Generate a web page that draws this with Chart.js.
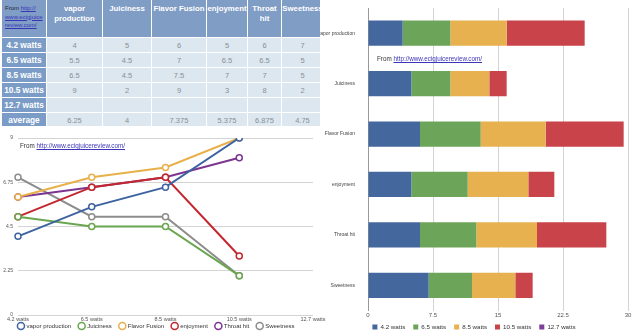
<!DOCTYPE html>
<html>
<head>
<meta charset="utf-8">
<script src="https://cdn.jsdelivr.net/npm/chart.js@4/dist/chart.umd.min.js"></script>
<style>
  body { margin: 0; width: 640px; height: 334px; background: #fff; position: relative; overflow: hidden;
         font-family: "Liberation Sans", Arial, sans-serif; }
  #tableBox { position: absolute; left: 0; top: 0; width: 321px; height: 126px; overflow: hidden; }
  #scores { border-collapse: separate; border-spacing: 0; table-layout: fixed; width: 322px; margin-left: 2px; }
  #scores th, #scores td { padding: 0; border-right: 1px solid #fff; border-bottom: 1px solid #fff; white-space: nowrap; }
  #scores thead th { background: #7f9dc5; color: #fff; font-size: 7.8px; font-weight: bold; height: 38px;
                     vertical-align: top; padding-top: 4px; box-sizing: border-box; line-height: 10px; overflow: visible; }
  #scores thead th:nth-child(2), #scores thead th:nth-child(6) { white-space: normal; }
  #scores thead th.src { text-align: left; font-weight: normal; font-size: 6px; line-height: 8.5px; color: #223;
                         padding: 4px 0 0 3px; white-space: normal; }
  #scores tbody th { background: #7b9cc7; color: #fff; font-size: 8.3px; font-weight: bold; height: 14px; text-align: center; }
  #scores tbody td { background: #dce7f0; color: #8a8f96; font-size: 7.5px; height: 14px; text-align: center; }
  a { color: #3a35b8; text-decoration: underline; }
  .src-note { position: absolute; font-size: 6.3px; color: #333; white-space: nowrap; z-index: 3; }
  #lineBox { position: absolute; left: 0; top: 128px; width: 330px; height: 211px; z-index: 2; }
  #barBox { position: absolute; left: 320px; top: 0; width: 320px; height: 340px; background: #fff; z-index: 1; }
</style>
</head>
<body>
<div id="tableBox"><table id="scores"></table></div>
<div id="barBox"><canvas id="barChart" width="320" height="340"></canvas></div>
<div id="lineBox"><canvas id="lineChart" width="330" height="211"></canvas></div>
<div class="src-note" style="left:20px; top:142px;">From <a>http://www.ecigjuicereview.com/</a></div>
<div class="src-note" style="left:377px; top:55px;">From <a>http://www.ecigjuicereview.com/</a></div>
<script>
const watts = ["4.2 watts", "6.5 watts", "8.5 watts", "10.5 watts", "12.7 watts"];
const traits = ["vapor production", "Juiciness", "Flavor Fusion", "enjoyment", "Throat hit", "Sweetness"];

// scores per trait, one value per wattage (no 12.7 watts test yet)
const vaporProduction = [4, 5.5, 6.5, 9, null];
const juiciness = [5, 4.5, 4.5, 2, null];
const flavorFusion = [6, 7, 7.5, 9, null];
const enjoyment = [5, 6.5, 7, 3, null];
const throatHit = [6, 6.5, 7, 8, null];
const sweetness = [7, 5, 5, 2, null];
const averages = ["6.25", "4", "7.375", "5.375", "6.875", "4.75"];

const series = [vaporProduction, juiciness, flavorFusion, enjoyment, throatHit, sweetness];
const traitColors = ["#3d63a0", "#6aa54f", "#e8b04a", "#c4262e", "#7b3590", "#8c8c8c"];
const wattColors = ["#44679e", "#6ca55a", "#e8b150", "#c8434a", "#7d3f98"];

Chart.defaults.font.family = "'Liberation Sans', Arial, sans-serif";

// table
const colWidths = [45, 56, 49, 55, 41, 34, 42];
let html = "<colgroup>" + colWidths.map(w => `<col style="width:${w}px">`).join("") + "</colgroup>";
html += '<thead><tr><th class="src">From <a>http://<br>www.ecigjuice<br>review.com/</a></th>';
html += traits.map(t => `<th>${t}</th>`).join("") + "</tr></thead><tbody>";
watts.forEach((w, i) => {
  html += `<tr><th>${w}</th>` + series.map(s => `<td>${s[i] == null ? "" : s[i]}</td>`).join("") + "</tr>";
});
html += "<tr><th>average</th>" + averages.map(a => `<td>${a}</td>`).join("") + "</tr></tbody>";
document.getElementById("scores").innerHTML = html;

// line chart: trait score by wattage
new Chart(document.getElementById("lineChart"), {
  type: "line",
  data: {
    labels: watts,
    datasets: traits.map((t, i) => ({
      label: t,
      data: series[i],
      borderColor: traitColors[i],
      backgroundColor: "#fff",
      pointBackgroundColor: "#fff",
      borderWidth: 2,
      pointRadius: 3,
      pointBorderWidth: 1.5,
      tension: 0,
    }))
  },
  options: {
    responsive: false,
    animation: false,
    layout: { padding: { top: 10, right: 17 } },
    plugins: {
      legend: {
        position: "bottom",
        labels: { usePointStyle: true, pointStyle: "circle", boxWidth: 5, boxHeight: 5, padding: 8,
                  font: { size: 6 }, color: "#333" }
      },
      tooltip: { enabled: false }
    },
    scales: {
      x: {
        grid: { display: false },
        border: { display: false },
        // mirrored so the labels aren't clipped to the (squeezed) axis box
        ticks: { mirror: true, padding: -7.3, font: { size: 5.5 }, color: "#555", maxRotation: 0 },
        afterFit: s => { s.height = 0; }
      },
      y: {
        min: 0,
        max: 9,
        ticks: { stepSize: 2.25, font: { size: 5 }, color: "#555", padding: 5, callback: v => v },
        grid: { color: "#d4d4d4", drawTicks: false },
        border: { display: false },
        afterFit: s => { s.width = 18; }
      }
    }
  }
});

// stacked bars: each trait's scores summed across wattages
new Chart(document.getElementById("barChart"), {
  type: "bar",
  data: {
    labels: traits,
    datasets: watts.map((w, i) => ({
      label: w,
      data: series.map(s => s[i]),
      backgroundColor: wattColors[i],
      borderWidth: 0,
      barPercentage: 0.5,
      categoryPercentage: 1.0,
    }))
  },
  options: {
    indexAxis: "y",
    responsive: false,
    animation: false,
    layout: { padding: { top: 8, right: 12 } },
    plugins: {
      legend: {
        position: "bottom",
        labels: { boxWidth: 5, boxHeight: 5, padding: 8, font: { size: 6.2 }, color: "#333" }
      },
      tooltip: { enabled: false }
    },
    scales: {
      x: {
        stacked: true,
        min: 0,
        max: 30,
        ticks: { mirror: true, padding: -8, stepSize: 7.5, font: { size: 6 }, color: "#555" },
        grid: { color: "#d4d4d4", drawTicks: false },
        border: { display: false },
        afterFit: s => { s.height = 5.3; }
      },
      y: {
        stacked: true,
        grid: { display: false },
        border: { color: "#999" },
        ticks: { font: { size: 5 }, color: "#444", padding: 5 },
        afterFit: s => { s.width = 48; }
      }
    }
  }
});
</script>
</body>
</html>
